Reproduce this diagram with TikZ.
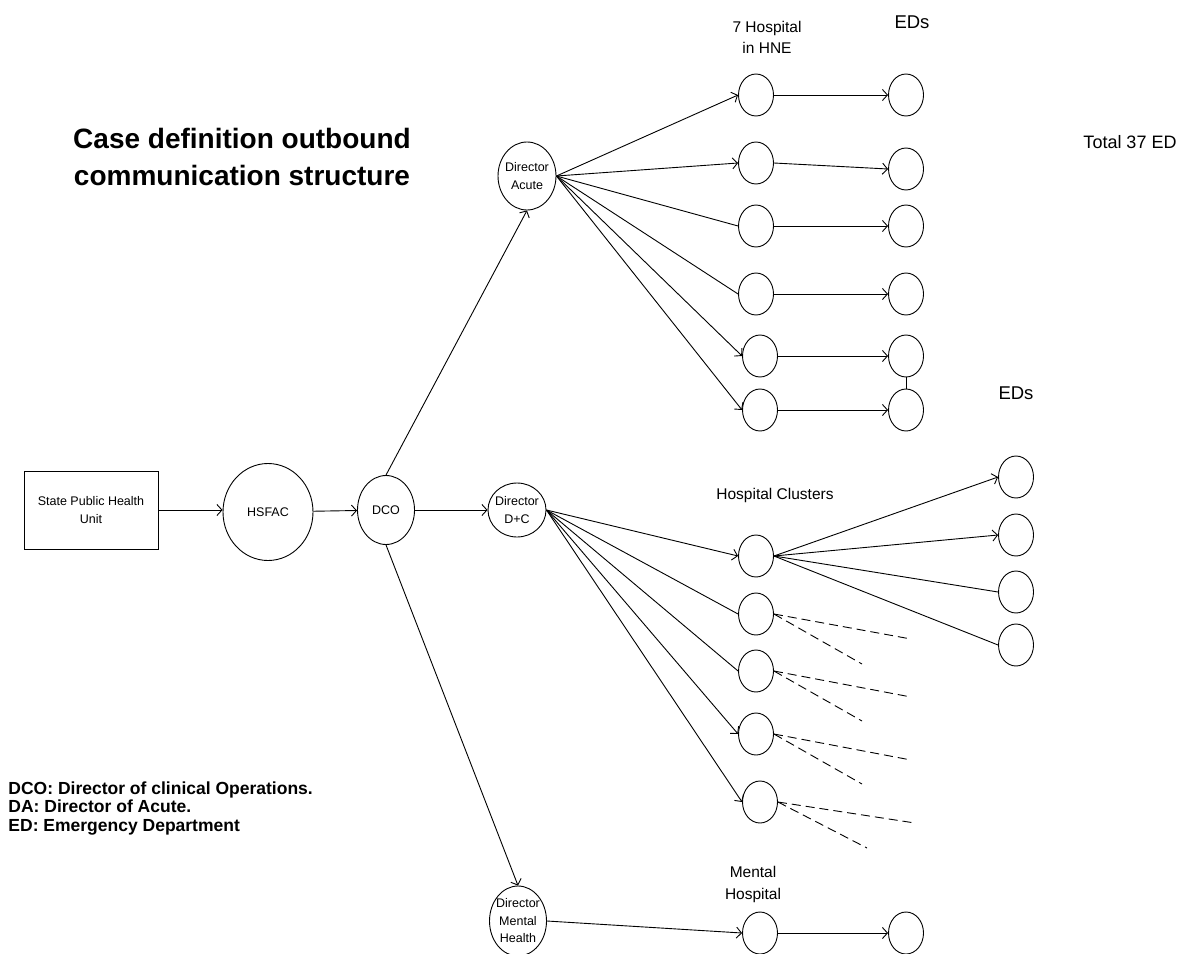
\documentclass[tikz,border=0pt]{standalone}
\usepackage{fontspec}
\setmainfont{Liberation Sans}
\usetikzlibrary{shapes.geometric,arrows.meta}
\begin{document}
\begin{tikzpicture}[x=1pt,y=-1pt,
  line width=0.9pt,
  ell/.style={ellipse, draw, inner sep=0pt},
  sm/.style={ell, minimum width=35pt, minimum height=42pt},
  txt/.style={font=\fontsize{12.5}{17.5}\selectfont, align=center, inner sep=0pt},
  arr/.style={-{Straight Barb[length=5pt,width=11pt]}},
  dsh/.style={dash pattern=on 9pt off 5pt},
  lab/.style={font=\fontsize{15.5}{21}\selectfont, align=center},
  big/.style={font=\fontsize{18.5}{22}\selectfont},
  leg/.style={font=\bfseries\fontsize{17.5}{18.5}\selectfont, anchor=base west, inner sep=0pt},
]
\fill[white] (0,0) rectangle (1190,953);
\useasboundingbox (0,0) rectangle (1190,953);

% main chain
\node[draw, rectangle, minimum width=134pt, minimum height=78pt, txt] (sphu) at (91,510) {State Public Health\\Unit};
\node[ell, minimum width=90pt, minimum height=97pt, label={[txt]center:HSFAC}] (hsfac) at (268,512) {};
\node[ell, minimum width=57pt, minimum height=69pt, label={[txt]center:DCO}] (dco) at (386,510) {};
\node[ell, minimum width=58pt, minimum height=54pt, label={[txt]center:Director\\D+C}] (dc) at (517,510) {};
\node[ell, minimum width=58pt, minimum height=68pt, label={[txt]center:Director\\Acute}] (da) at (527,176) {};
\node[ell, minimum width=57pt, minimum height=70pt, label={[txt]center:Director\\Mental\\Health}] (dmh) at (518,921) {};

% hospitals in HNE
\node[sm] (h1) at (756,95) {};
\node[sm] (h2) at (756,163) {};
\node[sm] (h3) at (756,226) {};
\node[sm] (h4) at (756,294) {};
\node[sm] (h5) at (760,356) {};
\node[sm] (h6) at (760,410) {};
\node[sm] (e1) at (906,95) {};
\node[sm] (e2) at (906,169) {};
\node[sm] (e3) at (906,226) {};
\node[sm] (e4) at (906,294) {};
\node[sm] (e5) at (906,356) {};
\node[sm] (e6) at (906,410) {};

% clusters
\node[sm] (c1) at (756,556) {};
\node[sm] (c2) at (756,614) {};
\node[sm] (c3) at (756,671) {};
\node[sm] (c4) at (756,734) {};
\node[sm] (c5) at (760,802) {};
\node[sm] (f1) at (1016,477) {};
\node[sm] (f2) at (1016,535) {};
\node[sm] (f3) at (1016,592) {};
\node[sm] (f4) at (1016,645) {};

% mental
\node[sm] (mh) at (760,933) {};
\node[sm] (me) at (906,933) {};

% labels
\node[lab] (hnelab) at (767,37) {7 Hospital\\in HNE};
\node[big] (edtop) at (912,22) {EDs};
\node[big] (edright) at (1016,393) {EDs};
\node[lab] (hcl) at (775,495) {Hospital Clusters};
\node[lab, font=\fontsize{15.5}{22}\selectfont] (mhl) at (753,884) {Mental\\Hospital};
\node[big, font=\fontsize{18}{22}\selectfont] (tot) at (1130,142) {Total 37 ED};
\node[font=\bfseries\fontsize{28}{37}\selectfont, align=center] (title) at (242,157) {Case definition outbound\\communication structure};
\node[leg] (leg1) at (8,794) {DCO: Director of clinical Operations.};
\node[leg] (leg2) at (8,812.5) {DA: Director of Acute.};
\node[leg] (leg3) at (8,831) {ED: Emergency Department};

% chain connectors
\draw[arr] (sphu.east) -- (sphu.east -| hsfac.west);
\draw[arr] (hsfac) -- (dco);
\draw[arr] (dco) -- (dc);
\draw[arr] (dco.north) -- (da.south);
\draw[arr] (dco.south) -- (dmh.north);

% director acute fan
\draw[arr] (da.east) -- (h1.west);
\draw[arr] (da.east) -- (h2.west);
\draw (da.east) -- (h3.west);
\draw (da.east) -- (h4.west);
\draw[arr] (da.east) -- (h5.west);
\draw[arr] (da.east) -- (h6.west);
\draw[arr] (h1) -- (e1);
\draw[arr] (h2.east) -- (e2.west);
\draw[arr] (h3) -- (e3);
\draw[arr] (h4) -- (e4);
\draw[arr] (h5) -- (e5);
\draw[arr] (h6) -- (e6);
\draw (e5) -- (e6);

% director D+C fan
\draw[arr] (dc.east) -- (c1.west);
\draw (dc.east) -- (c2.west);
\draw (dc.east) -- (c3.west);
\draw[arr] (dc.east) -- (c4.west);
\draw[arr] (dc.east) -- (c5.west);
\draw[arr] (c1.east) -- (f1.west);
\draw[arr] (c1.east) -- (f2.west);
\draw (c1.east) -- (f3.west);
\draw (c1.east) -- (f4.west);

% dashed continuations
\coordinate (d2a) at (911,639);
\coordinate (d2b) at (862,664);
\coordinate (d3a) at (911,697);
\coordinate (d3b) at (862,721);
\coordinate (d4a) at (911,760);
\coordinate (d4b) at (862,784);
\coordinate (d5a) at (915,823);
\coordinate (d5b) at (867,848);
\draw[dsh] (c2.east) -- (d2a);
\draw[dsh] (c2.east) -- (d2b);
\draw[dsh] (c3.east) -- (d3a);
\draw[dsh] (c3.east) -- (d3b);
\draw[dsh] (c4.east) -- (d4a);
\draw[dsh] (c4.east) -- (d4b);
\draw[dsh] (c5.east) -- (d5a);
\draw[dsh] (c5.east) -- (d5b);

% mental
\draw[arr] (dmh.east) -- (mh.west);
\draw[arr] (mh) -- (me);
\end{tikzpicture}
\end{document}
